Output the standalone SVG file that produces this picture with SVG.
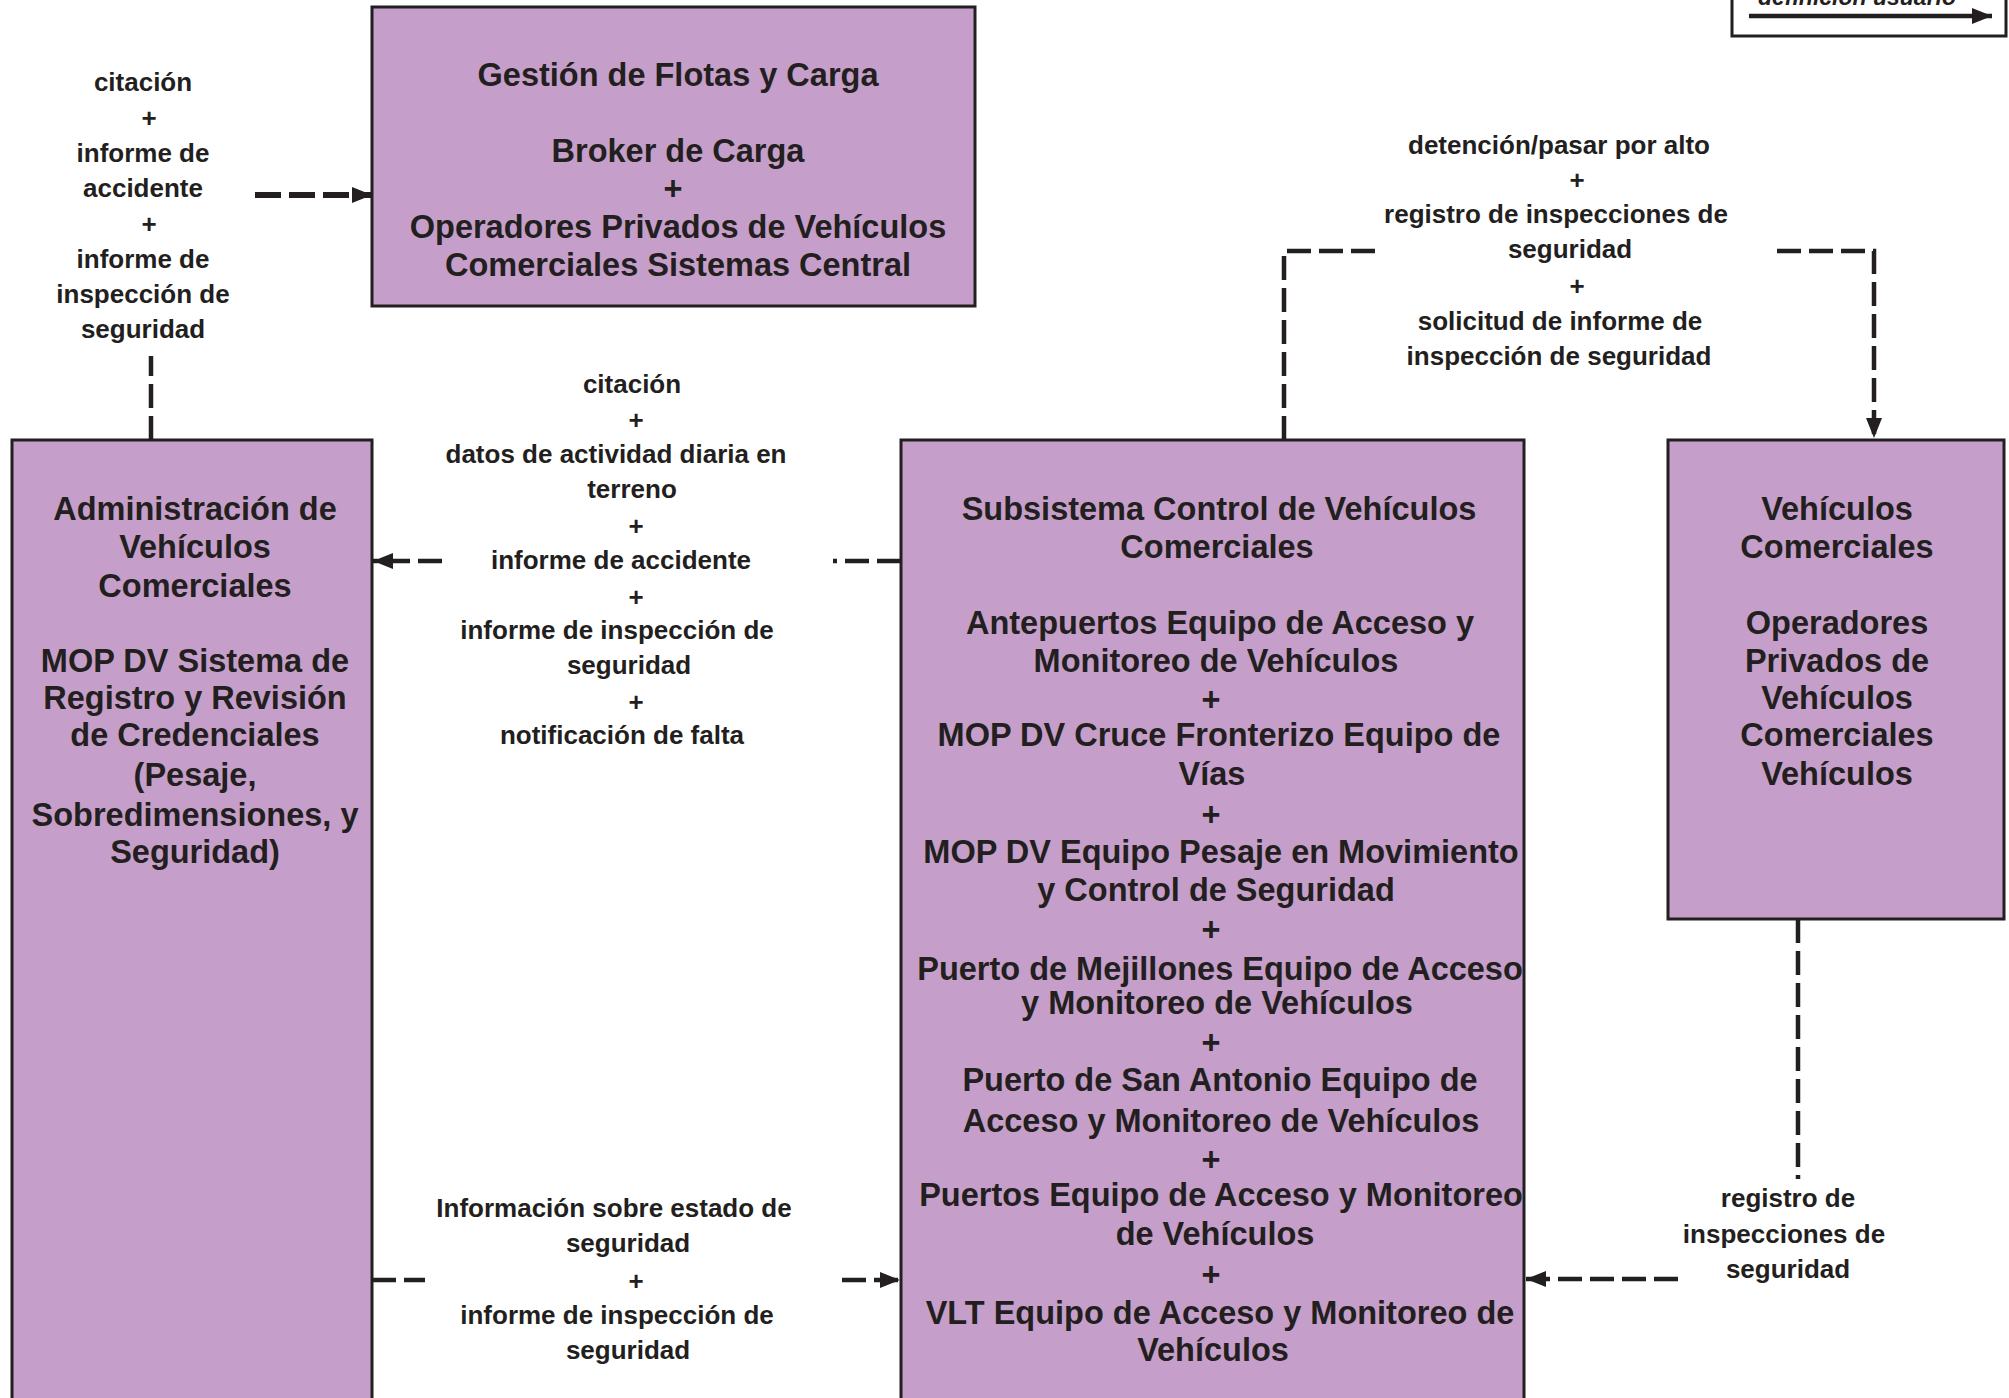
<svg xmlns="http://www.w3.org/2000/svg" width="2009" height="1398" viewBox="0 0 2009 1398">
<style>
.box{fill:#c59fc9;stroke:#231f20;stroke-width:3}
.t{font-family:"Liberation Sans",Arial,sans-serif;font-weight:bold;font-size:32.5px;fill:#231f20;text-anchor:middle}
.l{font-family:"Liberation Sans",Arial,sans-serif;font-weight:bold;font-size:26px;fill:#231f20;text-anchor:middle}
.c{fill:none;stroke:#231f20;stroke-width:4.5;stroke-dasharray:24 8}
.ch{fill:none;stroke:#231f20;stroke-width:6;stroke-dasharray:26 8}
</style>
<defs>
<marker id="ah" markerUnits="userSpaceOnUse" markerWidth="20" markerHeight="16" refX="20" refY="8" orient="auto">
<path d="M0,0 L20,8 L0,16 z" fill="#231f20"/>
</marker>
</defs>
<rect x="-5" y="-5" width="2020" height="1410" fill="#ffffff"/>

<g id="legend">
<rect x="1732" y="-10" width="274" height="46" fill="#ffffff" stroke="#231f20" stroke-width="3"/>
<text x="1857" y="5" style="font-family:'Liberation Sans',Arial,sans-serif;font-weight:bold;font-style:italic;font-size:23px;fill:#231f20;text-anchor:middle">definición usuario</text>
<line x1="1749" y1="16" x2="1992" y2="16" stroke="#231f20" stroke-width="4.5" marker-end="url(#ah)"/>
</g>

<g id="connectors">
<path class="c" d="M151,440 V356"/>
<path class="ch" d="M255,195 H372" marker-end="url(#ah)"/>
<path class="c" d="M901,561 H833"/>
<path class="c" d="M442,561 H373" marker-end="url(#ah)"/>
<path class="c" d="M1284,440 V251 H1380"/>
<path class="c" d="M1777,251 H1874 V438" marker-end="url(#ah)"/>
<path class="c" d="M1798,919 V1179"/>
<path class="c" d="M1678,1279 H1526" marker-end="url(#ah)"/>
<path class="c" d="M372,1280 H425"/>
<path class="c" d="M842,1280 H900" marker-end="url(#ah)"/>
</g>

<g id="label-gestion">
<text class="l" x="143" y="91">citación</text>
<text class="l" x="149" y="127">+</text>
<text class="l" x="143" y="162">informe de</text>
<text class="l" x="143" y="197">accidente</text>
<text class="l" x="149" y="233">+</text>
<text class="l" x="143" y="268">informe de</text>
<text class="l" x="143" y="303">inspección de</text>
<text class="l" x="143" y="338">seguridad</text>
</g>

<g id="label-admin">
<text class="l" x="632" y="393">citación</text>
<text class="l" x="636" y="429">+</text>
<text class="l" x="616" y="463">datos de actividad diaria en</text>
<text class="l" x="632" y="498">terreno</text>
<text class="l" x="636" y="535">+</text>
<text class="l" x="621" y="569">informe de accidente</text>
<text class="l" x="636" y="606">+</text>
<text class="l" x="617" y="639">informe de inspección de</text>
<text class="l" x="629" y="674">seguridad</text>
<text class="l" x="636" y="711">+</text>
<text class="l" x="622" y="744">notificación de falta</text>
</g>

<g id="label-vehiculos">
<text class="l" x="1559" y="154">detención/pasar por alto</text>
<text class="l" x="1577" y="189">+</text>
<text class="l" x="1556" y="223">registro de inspecciones de</text>
<text class="l" x="1570" y="258">seguridad</text>
<text class="l" x="1577" y="295">+</text>
<text class="l" x="1560" y="330">solicitud de informe de</text>
<text class="l" x="1559" y="365">inspección de seguridad</text>
</g>

<g id="label-registro">
<text class="l" x="1788" y="1207">registro de</text>
<text class="l" x="1784" y="1243">inspecciones de</text>
<text class="l" x="1788" y="1278">seguridad</text>
</g>

<g id="label-estado">
<text class="l" x="614" y="1217">Información sobre estado de</text>
<text class="l" x="628" y="1252">seguridad</text>
<text class="l" x="636" y="1290">+</text>
<text class="l" x="617" y="1324">informe de inspección de</text>
<text class="l" x="628" y="1359">seguridad</text>
</g>

<g id="node-gestion">
<rect class="box" x="372" y="7" width="603" height="299"/>
<text class="t" x="678" y="86">Gestión de Flotas y Carga</text>
<text class="t" x="678" y="162">Broker de Carga</text>
<text class="t" x="673" y="200">+</text>
<text class="t" x="678" y="238">Operadores Privados de Vehículos</text>
<text class="t" x="678" y="276">Comerciales Sistemas Central</text>
</g>

<g id="node-admin">
<rect class="box" x="12" y="440" width="360" height="990"/>
<text class="t" x="195" y="520">Administración de</text>
<text class="t" x="195" y="558">Vehículos</text>
<text class="t" x="195" y="597">Comerciales</text>
<text class="t" x="195" y="672">MOP DV Sistema de</text>
<text class="t" x="195" y="709">Registro y Revisión</text>
<text class="t" x="195" y="746">de Credenciales</text>
<text class="t" x="195" y="786">(Pesaje,</text>
<text class="t" x="195" y="826">Sobredimensiones, y</text>
<text class="t" x="195" y="863">Seguridad)</text>
</g>

<g id="node-control">
<rect class="box" x="901" y="440" width="623" height="990"/>
<text class="t" x="1219" y="520">Subsistema Control de Vehículos</text>
<text class="t" x="1217" y="558">Comerciales</text>
<text class="t" x="1220" y="634">Antepuertos Equipo de Acceso y</text>
<text class="t" x="1216" y="672">Monitoreo de Vehículos</text>
<text class="t" x="1211" y="711">+</text>
<text class="t" x="1219" y="746">MOP DV Cruce Fronterizo Equipo de</text>
<text class="t" x="1212" y="785">Vías</text>
<text class="t" x="1211" y="826">+</text>
<text class="t" x="1221" y="863">MOP DV Equipo Pesaje en Movimiento</text>
<text class="t" x="1216" y="901">y Control de Seguridad</text>
<text class="t" x="1211" y="941">+</text>
<text class="t" x="1220" y="980">Puerto de Mejillones Equipo de Acceso</text>
<text class="t" x="1217" y="1014">y Monitoreo de Vehículos</text>
<text class="t" x="1211" y="1054">+</text>
<text class="t" x="1220" y="1091">Puerto de San Antonio Equipo de</text>
<text class="t" x="1221" y="1132">Acceso y Monitoreo de Vehículos</text>
<text class="t" x="1211" y="1171">+</text>
<text class="t" x="1221" y="1206">Puertos Equipo de Acceso y Monitoreo</text>
<text class="t" x="1215" y="1245">de Vehículos</text>
<text class="t" x="1211" y="1286">+</text>
<text class="t" x="1220" y="1324">VLT Equipo de Acceso y Monitoreo de</text>
<text class="t" x="1213" y="1361">Vehículos</text>
</g>

<g id="node-vehiculos">
<rect class="box" x="1668" y="440" width="336" height="479"/>
<text class="t" x="1837" y="520">Vehículos</text>
<text class="t" x="1837" y="558">Comerciales</text>
<text class="t" x="1837" y="634">Operadores</text>
<text class="t" x="1837" y="672">Privados de</text>
<text class="t" x="1837" y="709">Vehículos</text>
<text class="t" x="1837" y="746">Comerciales</text>
<text class="t" x="1837" y="785">Vehículos</text>
</g>
</svg>
